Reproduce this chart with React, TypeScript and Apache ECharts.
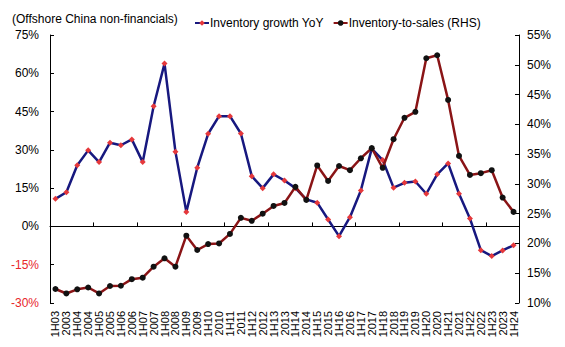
import React, { useEffect, useRef } from "react";
import * as echarts from "echarts";

const categories = [
  "1H03","2003","1H04","2004","1H05","2005","1H06","2006","1H07","2007",
  "1H08","2008","1H09","2009","1H10","2010","1H11","2011","1H12","2012",
  "1H13","2013","1H14","2014","1H15","2015","1H16","2016","1H17","2017",
  "1H18","2018","1H19","2019","1H20","2020","1H21","2021","1H22","2022",
  "1H23","2023","1H24"
];

const inventoryGrowthYoY = [
  10.8, 13.4, 24.0, 29.8, 25.2, 32.8, 31.8, 34.1, 25.2, 47.1,
  63.8, 29.3, 5.7, 23.0, 36.3, 43.2, 43.2, 36.4, 19.7, 15.0,
  20.4, 18.0, 15.0, 10.6, 9.3, 2.7, -3.8, 3.6, 14.1, 30.5,
  26.0, 15.2, 17.1, 17.6, 12.8, 20.4, 24.7, 12.8, 3.1, -9.3,
  -11.6, -9.4, -7.4
];

const inventoryToSales = [
  12.35, 11.6, 12.3, 12.6, 11.6, 12.85, 12.9, 14.0, 14.25, 16.1,
  17.5, 16.1, 21.3, 18.9, 19.9, 20.0, 21.6, 24.3, 23.8, 25.0,
  26.3, 26.8, 29.5, 27.3, 33.1, 30.5, 33.0, 32.3, 34.3, 36.0,
  32.7, 37.5, 41.1, 42.1, 51.1, 51.6, 44.1, 34.7, 31.5, 31.8,
  32.3, 27.7, 25.3
];

const subtitleText = "(Offshore China non-financials)";
const seriesNames = ["Inventory growth YoY", "Inventory-to-sales (RHS)"];

const FONT = "'Liberation Sans', Arial, sans-serif";

export default function App() {
  const ref = useRef<HTMLDivElement>(null);

  useEffect(() => {
    if (!ref.current) return;
    const chart = echarts.init(ref.current, undefined, { renderer: "svg" });
    chart.setOption({
      animation: false,
      textStyle: { fontFamily: FONT },
      graphic: [
        {
          type: "text",
          left: 12,
          top: 13,
          style: { text: subtitleText, fontSize: 12, fontFamily: FONT, fill: "#000" },
        },
      ],
      legend: {
        left: 189,
        top: 12,
        itemWidth: 14,
        itemHeight: 7,
        itemGap: 9,
        textStyle: { fontSize: 12, fontFamily: FONT, color: "#000", padding: [0, 0, 0, -4] },
        data: seriesNames,
      },
      grid: { left: 50, right: 46, top: 35, bottom: 44, containLabel: false },
      xAxis: [
        {
          type: "category",
          data: categories,
          position: "bottom",
          axisLine: { show: false, onZero: false },
          axisTick: { show: false },
          axisLabel: {
            interval: 0,
            rotate: 90,
            fontSize: 11,
            fontFamily: FONT,
            color: "#000",
            margin: 8,
          },
        },
        {
          type: "category",
          data: categories,
          position: "bottom",
          axisLine: { show: true, onZero: true, onZeroAxisIndex: 0, lineStyle: { color: "#000", width: 1 } },
          axisTick: { show: true, inside: true, length: 4, lineStyle: { color: "#000" } },
          axisLabel: { show: false },
        },
      ],
      yAxis: [
        {
          type: "value",
          min: -30,
          max: 75,
          interval: 15,
          position: "left",
          axisLine: { show: true, lineStyle: { color: "#000" } },
          axisTick: { show: true, inside: true, length: 4, lineStyle: { color: "#000" } },
          splitLine: { show: false },
          axisLabel: {
            formatter: (v: number) => `${v}%`,
            fontSize: 12,
            fontFamily: FONT,
            margin: 11,
            color: (v: any) => (Number(v) < 0 ? "#E8262B" : "#000"),
          },
        },
        {
          type: "value",
          min: 10,
          max: 55,
          interval: 5,
          position: "right",
          axisLine: { show: true, lineStyle: { color: "#000" } },
          axisTick: { show: true, inside: true, length: 4, lineStyle: { color: "#000" } },
          splitLine: { show: false },
          axisLabel: {
            formatter: (v: number) => `${v}%`,
            fontSize: 12,
            fontFamily: FONT,
            margin: 8,
            color: "#000",
          },
        },
      ],
      series: [
        {
          name: seriesNames[0],
          type: "line",
          xAxisIndex: 0,
          yAxisIndex: 0,
          data: inventoryGrowthYoY,
          symbol: "diamond",
          symbolSize: 6,
          showAllSymbol: true,
          lineStyle: { color: "#17187F", width: 2.5 },
          itemStyle: { color: "#E5383B", borderWidth: 0 },
          z: 2,
        },
        {
          name: seriesNames[1],
          type: "line",
          xAxisIndex: 0,
          yAxisIndex: 1,
          data: inventoryToSales,
          symbol: "circle",
          symbolSize: 6,
          showAllSymbol: true,
          lineStyle: { color: "#8A1416", width: 2.5 },
          itemStyle: { color: "#111", borderWidth: 0 },
          z: 3,
        },
      ],
    });
    return () => chart.dispose();
  }, []);

  return (
    <div
      ref={ref}
      style={{ position: "fixed", left: 0, top: 0, width: 565, height: 347, background: "#fff" }}
    />
  );
}
